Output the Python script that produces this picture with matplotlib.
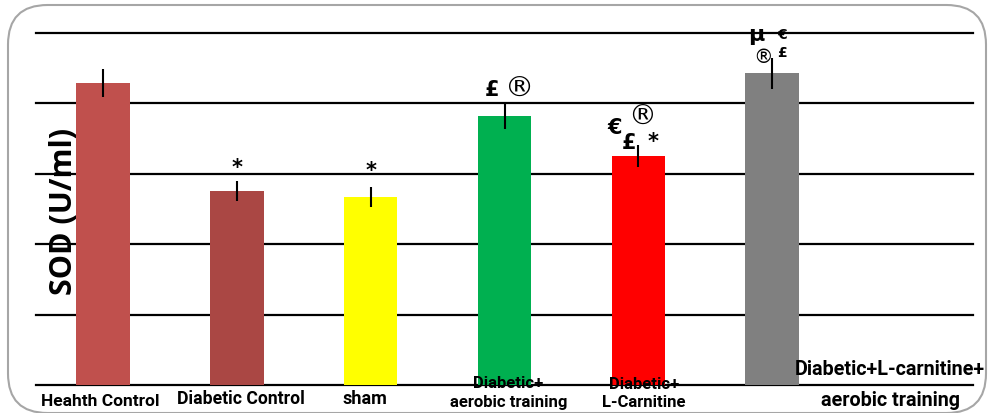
import matplotlib.pyplot as plt
from matplotlib.patches import FancyBboxPatch

# Group data (U/ml)
groups = ['Heahth Control', 'Diabetic Control', 'sham', 'Diabetic+\naerobic training',
          'Diabetic+\nL-Carnitine', 'Diabetic+L-carnitine+\naerobic training']
sod = [42.9, 27.6, 26.7, 38.2, 32.5, 44.3]
sod_err = [2.0, 1.4, 1.4, 1.8, 1.6, 2.2]
colors = ['#C0504D', '#AA4744', '#FFFF00', '#00B050', '#FF0000', '#808080']
grid_vals = [0, 10, 20, 30, 40, 50]

# significance marks: (bar index, dx, dy above value, text, size)
marks = [
    (1, 0.0, 3.4, '*', 15),
    (2, 0.0, 3.9, '*', 15),
    (3, -0.09, 3.8, '£', 15),
    (3, 0.11, 4.0, '®', 21),
    (4, -0.18, 4.1, '€', 15),
    (4, 0.03, 5.8, '®', 20),
    (4, -0.07, 2.0, '£', 15),
    (4, 0.11, 2.2, '*', 15),
    (5, -0.12, 5.5, 'µ', 16),
    (5, 0.07, 5.5, '€', 10),
    (5, -0.07, 2.4, '®', 14),
    (5, 0.07, 3.0, '£', 10),
]

plt.rcParams['font.family'] = ['Roboto', 'DejaVu Sans']
fig = plt.figure(figsize=(9.9, 4.14), dpi=100)
ax = fig.add_axes([36/990, 1-386/414, 937/990, 352/414])

for g in grid_vals:
    ax.axhline(g, color='black', lw=1.6, zorder=1, clip_on=False)

x = list(range(len(groups)))
ax.bar(x, sod, width=0.4, color=colors, zorder=2)
ax.errorbar(x, sod, yerr=sod_err, fmt='none', ecolor='black', elinewidth=1.5,
            capsize=0, zorder=3)

for i, dx, dy, t, s in marks:
    ax.text(i + dx, sod[i] + dy, t, ha='center', va='center', fontsize=s,
            fontweight='normal' if t == '®' else 'bold', zorder=4, clip_on=False,
            family=['DejaVu Sans'])

# category label lines: x (bar units), y of each line (data units), font size
lab_pos = [(-0.02, [-2.2], 12.5), (1.03, [-1.9], 12.7), (1.96, [-1.9], 13),
           (3.03, [0.4, -2.4], 12), (4.04, [0.2, -2.4], 12), (5.88, [2.4, -2.0], 14.2)]
for (lx, lys, fs), name in zip(lab_pos, groups):
    for ly, line in zip(lys, name.split('\n')):
        ax.text(lx, ly, line, ha='center', va='center', fontsize=fs,
                fontweight='bold', clip_on=False, zorder=4)

ax.set_xlim(-0.5, 6.5)
ax.set_ylim(0, 50)
ax.axis('off')

fig.text(64/990, 1-211/414, 'SOD (U/ml)', rotation=90, ha='center', va='center',
         fontsize=22, fontweight='bold', family=['Open Sans', 'DejaVu Sans'])

border = FancyBboxPatch((8/990, 0.0), 978/990, 1-6/414,
                        boxstyle='round,pad=0,rounding_size=0.04',
                        transform=fig.transFigure, fill=False,
                        edgecolor='#A6A6A6', lw=1.5, mutation_aspect=990/414)
fig.patches.append(border)

plt.savefig('out.png', dpi=100)
